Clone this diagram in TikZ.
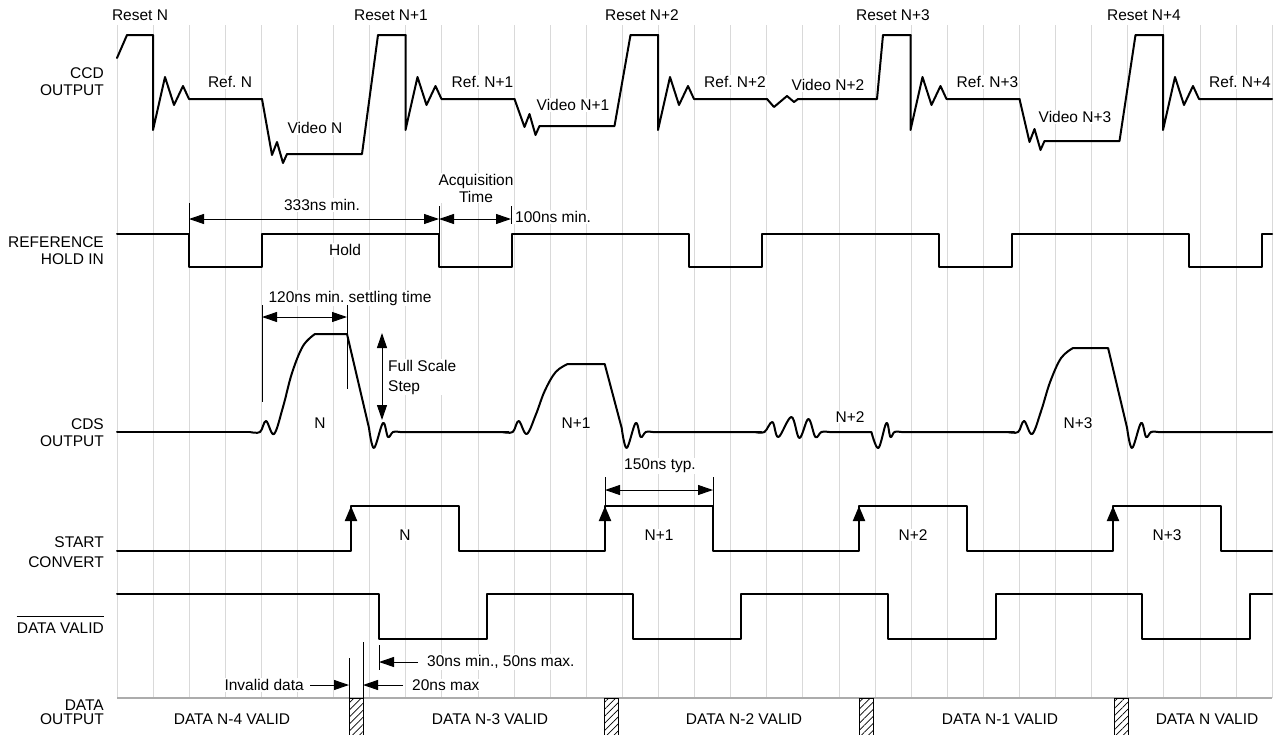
\documentclass[tikz,border=0pt]{standalone}
\usepackage{fontspec}
\setmainfont{Liberation Sans}
\usetikzlibrary{arrows.meta,patterns.meta}

\begin{document}
\begin{tikzpicture}[x=1pt,y=-1pt,
    every node/.style={font=\fontsize{15.5}{17}\selectfont},
    sig/.style={line width=2pt,line join=round,line cap=round},
    grd/.style={gray!30,line width=1pt},
    lbl/.style={fill=white,inner sep=1pt},
    side/.style={anchor=east,align=right,inner sep=0pt},
    dim/.style={line width=1pt,{Triangle[length=15pt,width=10pt]}-{Triangle[length=15pt,width=10pt]}},
    lead/.style={line width=1pt,-{Triangle[length=15pt,width=10pt]}},
    tck/.style={line width=1pt},
    hatch/.style={line width=1pt,pattern={Lines[angle=45,distance=5pt,line width=0.7pt]}}
    ]
    \useasboundingbox (0,0) rectangle (1275,734);
    %% grid
    \foreach \k in {0,...,32}
    {
    \draw[grd] (117+36.1*\k,25) -- (117+36.1*\k,698);
    }
    \draw[gray!65,line width=1.5pt] (117,698) -- (1272,698);

    %% signal names
    \node[side] (nccd) at (104,82) {CCD\\OUTPUT};
    \node[side] (nref) at (104,250.5) {REFERENCE\\HOLD IN};
    \node[side] (ncds) at (104,432.5) {CDS\\OUTPUT};
    \node[side] (nstart) at (104,552) {START\\[3pt]CONVERT};
    \node[anchor=east,inner sep=0pt] (ndv) at (104,628) {DATA VALID};
    \draw[line width=0.9pt] ([yshift=6pt]ndv.north west) -- ([yshift=6pt]ndv.north east);
    \node[side] (ndata) at (104,712) {DATA\\[-3pt]OUTPUT};

    %% CCD output
    \foreach \p/\lab in {0/N,1/N+1,2/N+2,3/N+3,4/N+4}
    {
    \node (reset\p) at (140+251*\p,15) {Reset \lab};
    \node[lbl] (ref\p) at (230+252.5*\p,82) {Ref.\ \lab};
    }
    \node[lbl] (video0) at (315,128) {Video N};
    \node[lbl] (video1) at (573,105) {Video N+1};
    \node[lbl] (video2) at (828,85) {Video N+2};
    \node[lbl] (video3) at (1075,117) {Video N+3};
    \draw[sig] (117,58) -- (127,35) -- (153,35);
    \foreach \p in {0,...,4}
    {
    \begin{scope}[xshift=\p*252.5pt]
    \draw[sig] (153,35) -- (153,130) -- (165,77) -- (174,105) -- (183,86) -- (189,99) -- (262,99);
    \end{scope}
    }
    \foreach \p/\v in {0/154,1/126,3/141}
    {
    \begin{scope}[xshift=\p*252.5pt]
    \draw[sig] (262,99) -- (272,\v+1) -- (277,\v-12) -- (283,\v+9) -- (287,\v) -- (362,\v) -- (378,35) -- (405.5,35);
    \end{scope}
    }
    \draw[sig] (767,99) -- (774,107) -- (787,96) -- (794,102) -- (798,99) -- (877,99) -- (883,35) -- (910.5,35);

    %% Reference hold in
    \node[lbl] (t333) at (322,205) {333ns min.};
    \node[lbl,align=center] (tacq) at (476,188) {Acquisition\\Time};
    \node[lbl,anchor=west] (t100) at (514,217) {100ns min.};
    \node[lbl] (thold) at (345,250) {Hold};
    \draw[sig] (117,234) foreach \p in {0,...,4} { -- (189+250*\p,234) -- (189+250*\p,267) -- (261.5+250*\p,267) -- (261.5+250*\p,234) } -- (1272,234);
    \coordinate (a1) at (189,219);
    \coordinate (a2) at (439,219);
    \coordinate (a3) at (511,219);
    \draw[tck] (189,203) -- (189,234);
    \draw[tck] (439,206) -- (439,234);
    \draw[tck] (511,206) -- (511,224);
    \draw[dim] (a1) -- (a2);
    \draw[dim] (a2) -- (a3);

    %% CDS output
    \node[lbl] (tsettle) at (350,298) {120ns min.\ settling time};
    \node[lbl,align=left,anchor=west] (tfull) at (387,377) {Full Scale\\[3pt]Step};
    \node[lbl] (cds0) at (320,423) {N};
    \node[lbl] (cds1) at (576,423) {N+1};
    \node[lbl] (cds2) at (850,417) {N+2};
    \node[lbl] (cds3) at (1078,423) {N+3};
    \draw[sig] (117,432) -- (250,432);
    \foreach \p/\t/\a/\b/\c/\f/\e in {0/334/407/373/346/347/508.7,1/364/415/391/372/352/508.7,3/348/411/382/358/350/514}
    {
    \begin{scope}[xshift=\p*252.7pt]
    \draw[sig] plot[smooth,tension=0.6] coordinates {(250,432) (260,432) (266,421) (274,434) (283,\a) (292,\b) (303,\c) (315,\t)}
      -- (\f,\t) -- (369,428) -- plot[smooth,tension=0.6] coordinates {(369,428) (374,448) (383,423) (388,437) (393,432) (400,432)} -- (\e,432);
    \end{scope}
    }
    \begin{scope}[xshift=505.4pt]
    \draw[sig] plot[smooth,tension=0.6] coordinates {(250,432) (259,432) (267,422) (273,437) (286,417) (294,438) (303,419) (310,437) (316,432) (324,432)}
      -- (366,432) -- plot[smooth,tension=0.6] coordinates {(366,432) (373,448) (381,423) (385,437) (389,432) (396,432)} -- (508.7,432);
    \end{scope}
    \coordinate (s1) at (262,317);
    \coordinate (s2) at (347,317);
    \draw[tck] (262,305) -- (262,402);
    \draw[tck] (347,305) -- (347,389);
    \draw[dim] (s1) -- (s2);
    \coordinate (f1) at (382,333);
    \coordinate (f2) at (382,420);
    \draw[dim] (f1) -- (f2);

    %% Start convert
    \node[lbl] (t150) at (660,466) {150ns typ.};
    \foreach \p/\lab in {0/N,1/N+1,2/N+2,3/N+3}
    {
    \node[lbl] (conv\p) at (405+254*\p,535) {\lab};
    }
    \draw[sig] (117,551) foreach \p in {0,...,3} { -- (351+254*\p,551) -- (351+254*\p,506) -- (459+254*\p,506) -- (459+254*\p,551) } -- (1272,551);
    \foreach \p in {0,...,3}
    {
    \draw[line width=2pt,-{Triangle[length=15pt,width=12pt]}] (351+254*\p,532) -- (351+254*\p,506);
    }
    \coordinate (c1) at (605,490);
    \coordinate (c2) at (713,490);
    \draw[tck] (605,477) -- (605,506);
    \draw[tck] (713,477) -- (713,506);
    \draw[dim] (c1) -- (c2);

    %% Data valid
    \draw[sig] (117,594) foreach \p in {0,...,3} { -- (379+254.3*\p,594) -- (379+254.3*\p,639) -- (487+254.3*\p,639) -- (487+254.3*\p,594) } -- (1272,594);
    \node[lbl,anchor=west] (t30) at (426,662) {30ns min., 50ns max.};
    \node[lbl,anchor=west] (t20) at (411,685) {20ns max};
    \node[lbl,anchor=east] (tinv) at (305,685) {Invalid data};
    \coordinate (d30) at (379,662);
    \coordinate (d20) at (363,685);
    \coordinate (dinv) at (349,685);
    \draw[tck] (379,645) -- (379,670);
    \draw[tck] (363,642) -- (363,698);
    \draw[tck] (349,658) -- (349,698);
    \draw[lead,shorten <=8pt] (t30.west) -- (d30);
    \draw[lead,shorten <=8pt] (t20.west) -- (d20);
    \draw[lead,shorten <=5pt] (tinv.east) -- (dinv);

    %% Data output
    \foreach \p in {0,...,3}
    {
    \draw[hatch] (349+255*\p,698) rectangle (363+255*\p,737);
    }
    \foreach \x/\lab [count=\i] in {232/N-4,490/N-3,744/N-2,1000/N-1,1207/N}
    {
    \node (dout\i) at (\x,719) {DATA \lab\ VALID};
    }
\end{tikzpicture}
\end{document}
